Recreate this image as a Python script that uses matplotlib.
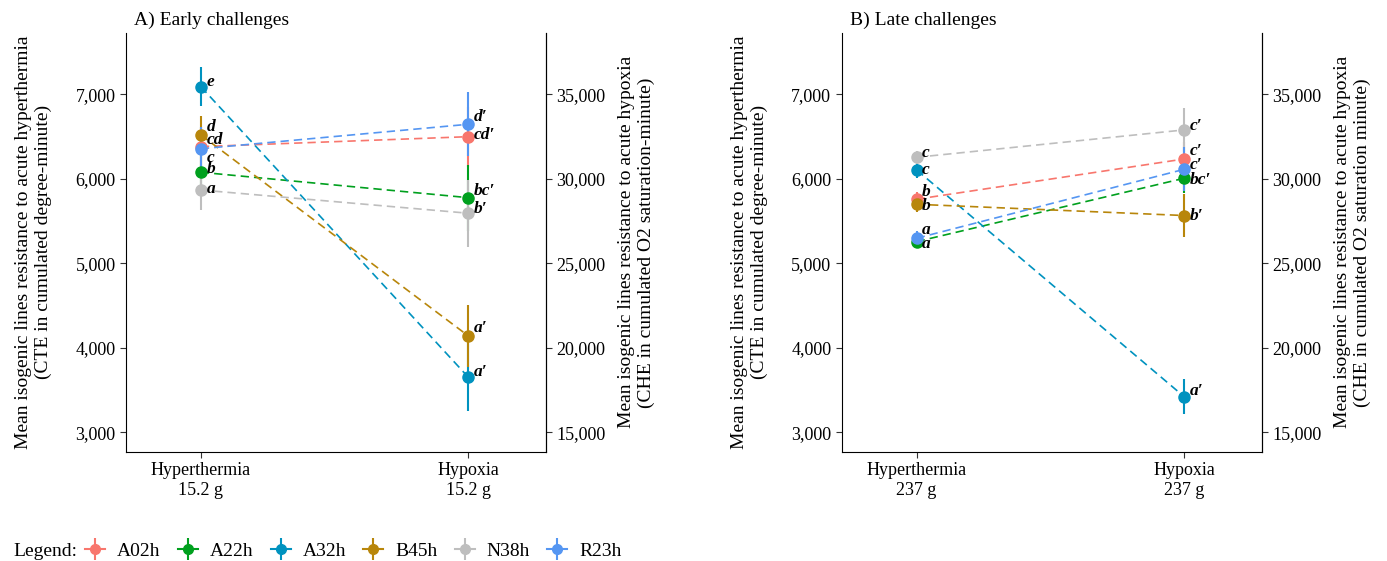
import matplotlib
matplotlib.use("Agg")
from matplotlib import pyplot as plt
from matplotlib.lines import Line2D
from matplotlib.ticker import FuncFormatter

plt.rcParams['font.family'] = ['Liberation Serif', 'DejaVu Serif']

lines = ['A02h', 'A22h', 'A32h', 'B45h', 'N38h', 'R23h']
colors = ['#F8766D', '#00A01E', '#0092BF', '#B8860B', '#BEBEBE', '#5596F2']

# hyperthermia: CTE (degree-minute), hypoxia: CHE (O2 saturation-minute)
early_cte = [6380, 6077, 7090, 6518, 5867, 6355]
early_cte_se = [230, 200, 230, 220, 235, 260]
early_che = [32490, 28880, 18255, 20700, 27960, 33225]
early_che_se = [1780, 1950, 2000, 1830, 1980, 1900]
early_hyper_lbl = ['cd', 'b', 'e', 'd', 'a', 'c']
early_hypox_lbl = ["cd′", "bc′", "a′", "a′", "b′", "d′"]

late_cte = [5758, 5256, 6104, 5698, 6254, 5296]
late_cte_se = [80, 80, 90, 90, 80, 90]
late_che = [31170, 30030, 17105, 27825, 32890, 30560]
late_che_se = [1000, 900, 1050, 1300, 1280, 1300]
late_hyper_lbl = ['b', 'a', 'c', 'b', 'c', 'a']
late_hypox_lbl = ["c′", "bc′", "a′", "b′", "c′", "c′"]

SCALE = 5  # secondary axis: CHE = 5 * CTE

# label vertical nudges (points)
early_hyper_dy = [5, 2, 3, 6, 1, -7]
early_hypox_dy = [1, 5, 4, 6, 3, 5]
late_hyper_dy = [5, -2, 0, -1, 3, 6]
late_hypox_dy = [6, -1, 4, 0, 3, 3]

comma = FuncFormatter(lambda v, p: f'{v:,.0f}')

fig = plt.figure(figsize=(13.87, 5.61), dpi=100)


def draw_panel(rect, title, mass, cte, cte_se, che, che_se, lbl1, lbl2, dy1, dy2, right_label):
    ax = fig.add_axes(rect)
    for i, name in enumerate(lines):
        c = colors[i]
        y1 = cte[i]
        y2 = che[i] / SCALE
        ax.plot([1, 2], [y1, y2], color=c, ls=(0, (5, 3)), lw=1.2, zorder=2)
        ax.errorbar([1], [y1], yerr=[cte_se[i]], color=c, fmt='o', ms=8, elinewidth=1.5,
                    capsize=0, zorder=3)
        ax.errorbar([2], [y2], yerr=[che_se[i] / SCALE], color=c, fmt='o', ms=8,
                    elinewidth=1.5, capsize=0, zorder=3)
        ax.annotate(lbl1[i], (1, y1), xytext=(4, dy1[i]), textcoords='offset points',
                    ha='left', va='center', fontsize=12.5, fontweight='bold',
                    fontstyle='italic', zorder=4)
        ax.annotate(lbl2[i], (2, y2), xytext=(4, dy2[i]), textcoords='offset points',
                    ha='left', va='center', fontsize=12.5, fontweight='bold',
                    fontstyle='italic', zorder=4)
    ax.set_xlim(0.72, 2.29)
    ax.set_ylim(2770, 7725)
    ax.set_yticks([3000, 4000, 5000, 6000, 7000])
    ax.yaxis.set_major_formatter(comma)
    ax.set_xticks([1, 2])
    ax.set_xticklabels([f'Hyperthermia\n{mass}', f'Hypoxia\n{mass}'], fontsize=13)
    ax.tick_params(axis='y', labelsize=13, length=4, color='#333333')
    ax.tick_params(axis='x', length=4, color='#333333')
    ax.spines['top'].set_visible(False)
    ax.set_ylabel('Mean isogenic lines resistance to acute hyperthermia\n'
                  '(CTE in cumulated degree-minute)', fontsize=14, labelpad=17)
    ax.text(0.02, 1.01, title, transform=ax.transAxes, fontsize=14, ha='left', va='bottom')

    sec = ax.secondary_yaxis('right', functions=(lambda y: y * SCALE, lambda y: y / SCALE))
    sec.set_yticks([15000, 20000, 25000, 30000, 35000])
    sec.yaxis.set_major_formatter(comma)
    sec.tick_params(labelsize=13, length=4, color='#333333')
    sec.set_ylabel('Mean isogenic lines resistance to acute hypoxia\n' + right_label,
                   fontsize=14, labelpad=9)
    return ax


draw_panel([0.0908, 0.1948, 0.3028, 0.7464], 'A) Early challenges', '15.2 g',
           early_cte, early_cte_se, early_che, early_che_se,
           early_hyper_lbl, early_hypox_lbl, early_hyper_dy, early_hypox_dy,
           '(CHE in cumulated O2 saturation-minute)')
draw_panel([0.6069, 0.1948, 0.3028, 0.7464], 'B) Late challenges', '237 g',
           late_cte, late_cte_se, late_che, late_che_se,
           late_hyper_lbl, late_hypox_lbl, late_hyper_dy, late_hypox_dy,
           '(CHE in cumulated O2 saturation minute)')

handles = []
for c in colors:
    h1 = Line2D([], [], color=c, marker='o', ms=7, lw=1.5)
    h2 = Line2D([], [], color=c, marker='|', ms=16, mew=1.5, lw=0)
    handles.append((h1, h2))
fig.text(0.0094, 0.0178, 'Legend:', fontsize=14, ha='left', va='center')
fig.legend(handles, lines, loc='center left', bbox_to_anchor=(0.0613, 0.0178), ncol=6,
           frameon=False, fontsize=14, handlelength=1.03, columnspacing=0.88,
           handletextpad=0.62, borderpad=0, borderaxespad=0)

fig.savefig('out.png', dpi=100)
